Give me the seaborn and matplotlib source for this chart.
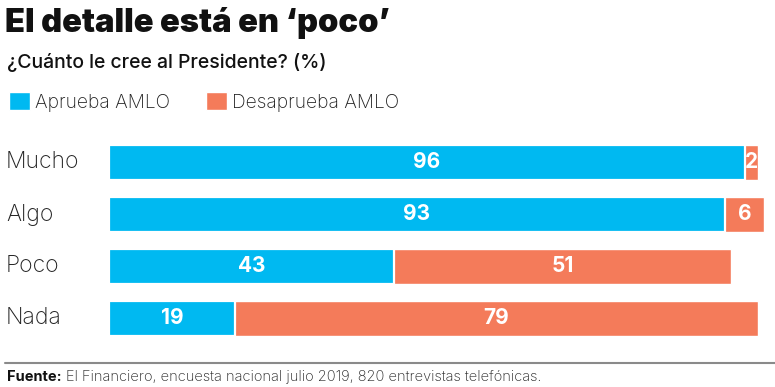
import matplotlib
matplotlib.use("Agg")
import matplotlib.pyplot as plt
import seaborn as sns
import pandas as pd
from matplotlib.patches import Patch
from matplotlib.lines import Line2D

# data
categorias = ["Mucho", "Algo", "Poco", "Nada"]
aprueba = [96, 93, 43, 19]
desaprueba = [2, 6, 51, 79]

azul = "#00B9F1"
naranja = "#F47B5A"

df = pd.DataFrame({"cat": categorias, "aprueba": aprueba, "desaprueba": desaprueba})
df["total"] = df["aprueba"] + df["desaprueba"]

sns.set_style("white")
plt.rcParams["font.family"] = ["Inter", "DejaVu Sans"]

W, H = 775, 387
fig = plt.figure(figsize=(W / 100, H / 100), dpi=100)
# axes: x=0 at 109px, 6.62 px per point; rows 52px apart
ax = fig.add_axes([109 / W, (H - 344.5) / H, 662 / W, 208 / H])

# stacked bars: total (orange) underneath, approval (blue) on top
sns.barplot(data=df, x="total", y="cat", color=naranja, width=0.67,
            saturation=1, ax=ax, orient="h")
sns.barplot(data=df, x="aprueba", y="cat", color=azul, width=0.67,
            saturation=1, ax=ax, orient="h", edgecolor="white", linewidth=1.6)

ax.set_xlim(0, 100)
ax.set_ylim(3.5, -0.5)
ax.set_xlabel("")
ax.set_ylabel("")
ax.set_xticks([])
ax.set_yticks([])
sns.despine(ax=ax, left=True, bottom=True)

for i, row in df.iterrows():
    ax.text(row["aprueba"] / 2, i, str(row["aprueba"]), ha="center", va="center",
            color="white", fontsize=15, fontweight="bold")
    ax.text(row["aprueba"] + row["desaprueba"] / 2, i, str(row["desaprueba"]),
            ha="center", va="center", color="white", fontsize=15, fontweight="bold")
    # category label at left edge of the figure
    fig.text(6 / W, 1 - (162.5 + 52 * i) / H, row["cat"], ha="left", va="center",
             fontsize=16.5, fontweight="light", color="#222222")

# titles
fig.text(5 / W, 1 - 23 / H, "El detalle está en ‘poco’", ha="left", va="center",
         fontsize=23.5, fontweight="black", color="#111111")
fig.text(7 / W, 1 - 62 / H, "¿Cuánto le cree al Presidente? (%)", ha="left", va="center",
         fontsize=14, fontweight="medium", color="#111111")

# legend
handles = [Patch(facecolor=azul, label="Aprueba AMLO"),
           Patch(facecolor=naranja, label="Desaprueba AMLO")]
fig.legend(handles=handles, loc="upper left", bbox_to_anchor=(9 / W, 1 - 92 / H),
           ncol=2, frameon=False, handlelength=1.1, handleheight=1.1,
           handletextpad=0.25, columnspacing=1.9, borderpad=0, borderaxespad=0,
           labelcolor="#222222", prop={"weight": "light", "size": 13.8})

# footer
fig.add_artist(Line2D([5 / W, 1], [1 - 363 / H, 1 - 363 / H], color="#8a8a8a", lw=1.5))
t1 = fig.text(7 / W, 1 - 377 / H, "Fuente:", ha="left", va="center",
              fontsize=10.5, fontweight="bold", color="#111111")
fig.canvas.draw()
bb = t1.get_window_extent()
fig.text((bb.x1 + 4) / W, 1 - 377 / H,
         "El Financiero, encuesta nacional julio 2019, 820 entrevistas telefónicas.",
         ha="left", va="center", fontsize=10.5, fontweight="light", color="#222222")

fig.savefig("out.png", dpi=100)
